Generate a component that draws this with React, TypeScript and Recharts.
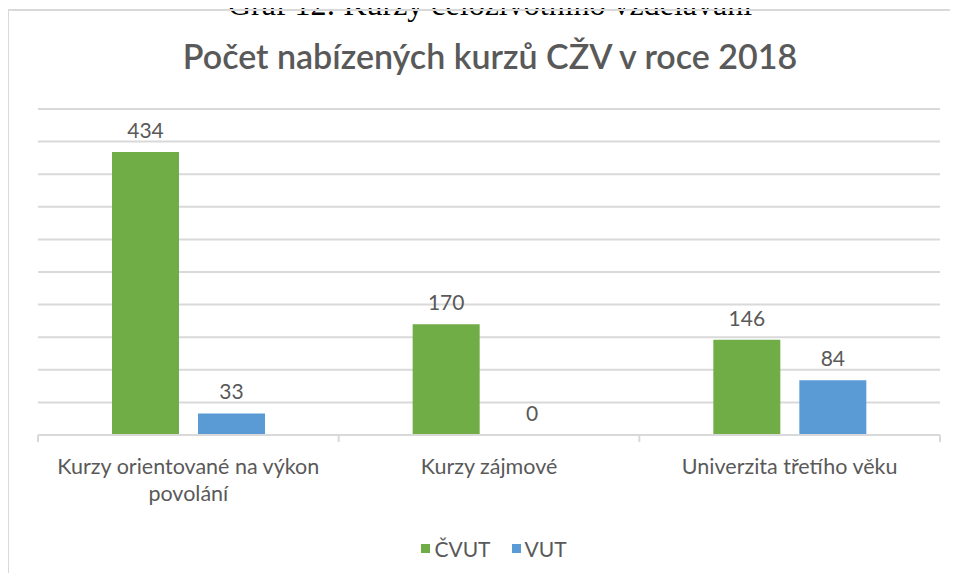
import React from "react";
import { BarChart, Bar, XAxis, YAxis, CartesianGrid, Legend, LabelList } from "recharts";

const categories = ["Kurzy orientované na výkon\npovolání", "Kurzy zájmové", "Univerzita třetího věku"];
const cvutValues = [434, 170, 146];
const vutValues = [33, 0, 84];
const seriesNames = ["ČVUT", "VUT"];
const yTicks = [0, 50, 100, 150, 200, 250, 300, 350, 400, 450, 500];

const title = "Počet nabízených kurzů CŽV v roce 2018";
const caption = "Graf 12: Kurzy celoživotního vzdělávání";

const GREEN = "#70AD47";
const BLUE = "#5B9BD5";
const TEXT = "#595959";
const GRID = "#D9D9D9";
const FONT = "Lato, 'Open Sans', sans-serif";

const data = categories.map((c, i) => ({ name: c, cvut: cvutValues[i], vut: vutValues[i] }));

const CategoryTick = (props: any) => {
  const { x, y, payload, index, visibleTicksCount } = props;
  const half = payload && payload.offset ? payload.offset : 902 / 6;
  const lines = String(payload.value).split("\n");
  const count = visibleTicksCount || categories.length;
  return (
    <g>
      <line x1={x - half} x2={x - half} y1={y} y2={y + 7} stroke={GRID} strokeWidth={2} />
      {index === count - 1 && (
        <line x1={x + half} x2={x + half} y1={y} y2={y + 7} stroke={GRID} strokeWidth={2} />
      )}
      <text x={x} y={y + 39} textAnchor="middle" fill={TEXT} fontFamily={FONT} fontSize={21.5}>
        {lines.map((l, i) => (
          <tspan key={i} x={x} dy={i === 0 ? 0 : 27}>
            {l}
          </tspan>
        ))}
      </text>
    </g>
  );
};

const LegendContent = () => (
  <div
    style={{
      height: 24,
      display: "flex",
      justifyContent: "center",
      alignItems: "center",
      fontFamily: FONT,
      fontSize: 21,
      color: TEXT,
      paddingLeft: 10,
    }}
  >
    {seriesNames.map((n, i) => (
      <span key={n} style={{ display: "inline-flex", alignItems: "center", marginRight: i === 0 ? 21 : 0 }}>
        <span style={{ width: 9, height: 9, background: i === 0 ? GREEN : BLUE, marginRight: 4, display: "inline-block" }} />
        {n}
      </span>
    ))}
  </div>
);

const minSize = (value: any) => (value === 0 ? 0.01 : 0);

export default function App() {
  return (
    <div style={{ position: "relative", width: 958, height: 581, margin: -8, overflow: "hidden", background: "#fff" }}>
      <div
        style={{
          position: "absolute",
          left: 0,
          width: 958,
          top: -12,
          textAlign: "center",
          fontFamily: "'Liberation Serif', 'DejaVu Serif', serif",
          fontSize: 32,
          lineHeight: "32px",
          color: "#000",
          paddingLeft: 22,
          boxSizing: "border-box",
          whiteSpace: "nowrap",
        }}
      >
        {caption}
      </div>
      <div
        style={{
          position: "absolute",
          left: 7,
          top: 9,
          width: 1000,
          height: 700,
          border: `2px solid ${GRID}`,
          boxSizing: "border-box",
          background: "transparent",
        }}
      />
      <div
        style={{
          position: "absolute",
          left: 0,
          width: 980,
          top: 36,
          textAlign: "center",
          fontFamily: FONT,
          fontSize: 34,
          fontWeight: 600,
          color: TEXT,
          lineHeight: "40px",
        }}
      >
        {title}
      </div>
      <div style={{ position: "absolute", left: 0, top: 0 }}>
        <BarChart
          width={958}
          height={581}
          data={data}
          margin={{ top: 109, right: 18, left: 38, bottom: 21 }}
          barSize={67}
          barGap={19}
        >
          <CartesianGrid vertical={false} stroke={GRID} strokeWidth={2} />
          <YAxis hide domain={[0, 500]} ticks={yTicks} />
          <XAxis
            dataKey="name"
            height={101}
            stroke={GRID}
            axisLine={{ stroke: GRID, strokeWidth: 2 }}
            tickLine={false}
            tickSize={0}
            tickMargin={0}
            interval={0}
            tick={<CategoryTick />}
          />
          <Legend verticalAlign="bottom" content={<LegendContent />} />
          <Bar dataKey="cvut" name={seriesNames[0]} fill={GREEN} isAnimationActive={false} minPointSize={minSize}>
            <LabelList dataKey="cvut" position="top" offset={14} fill={TEXT} fontFamily={FONT} fontSize={21} />
          </Bar>
          <Bar dataKey="vut" name={seriesNames[1]} fill={BLUE} isAnimationActive={false} minPointSize={minSize}>
            <LabelList dataKey="vut" position="top" offset={14} fill={TEXT} fontFamily={FONT} fontSize={21} />
          </Bar>
        </BarChart>
      </div>
    </div>
  );
}
